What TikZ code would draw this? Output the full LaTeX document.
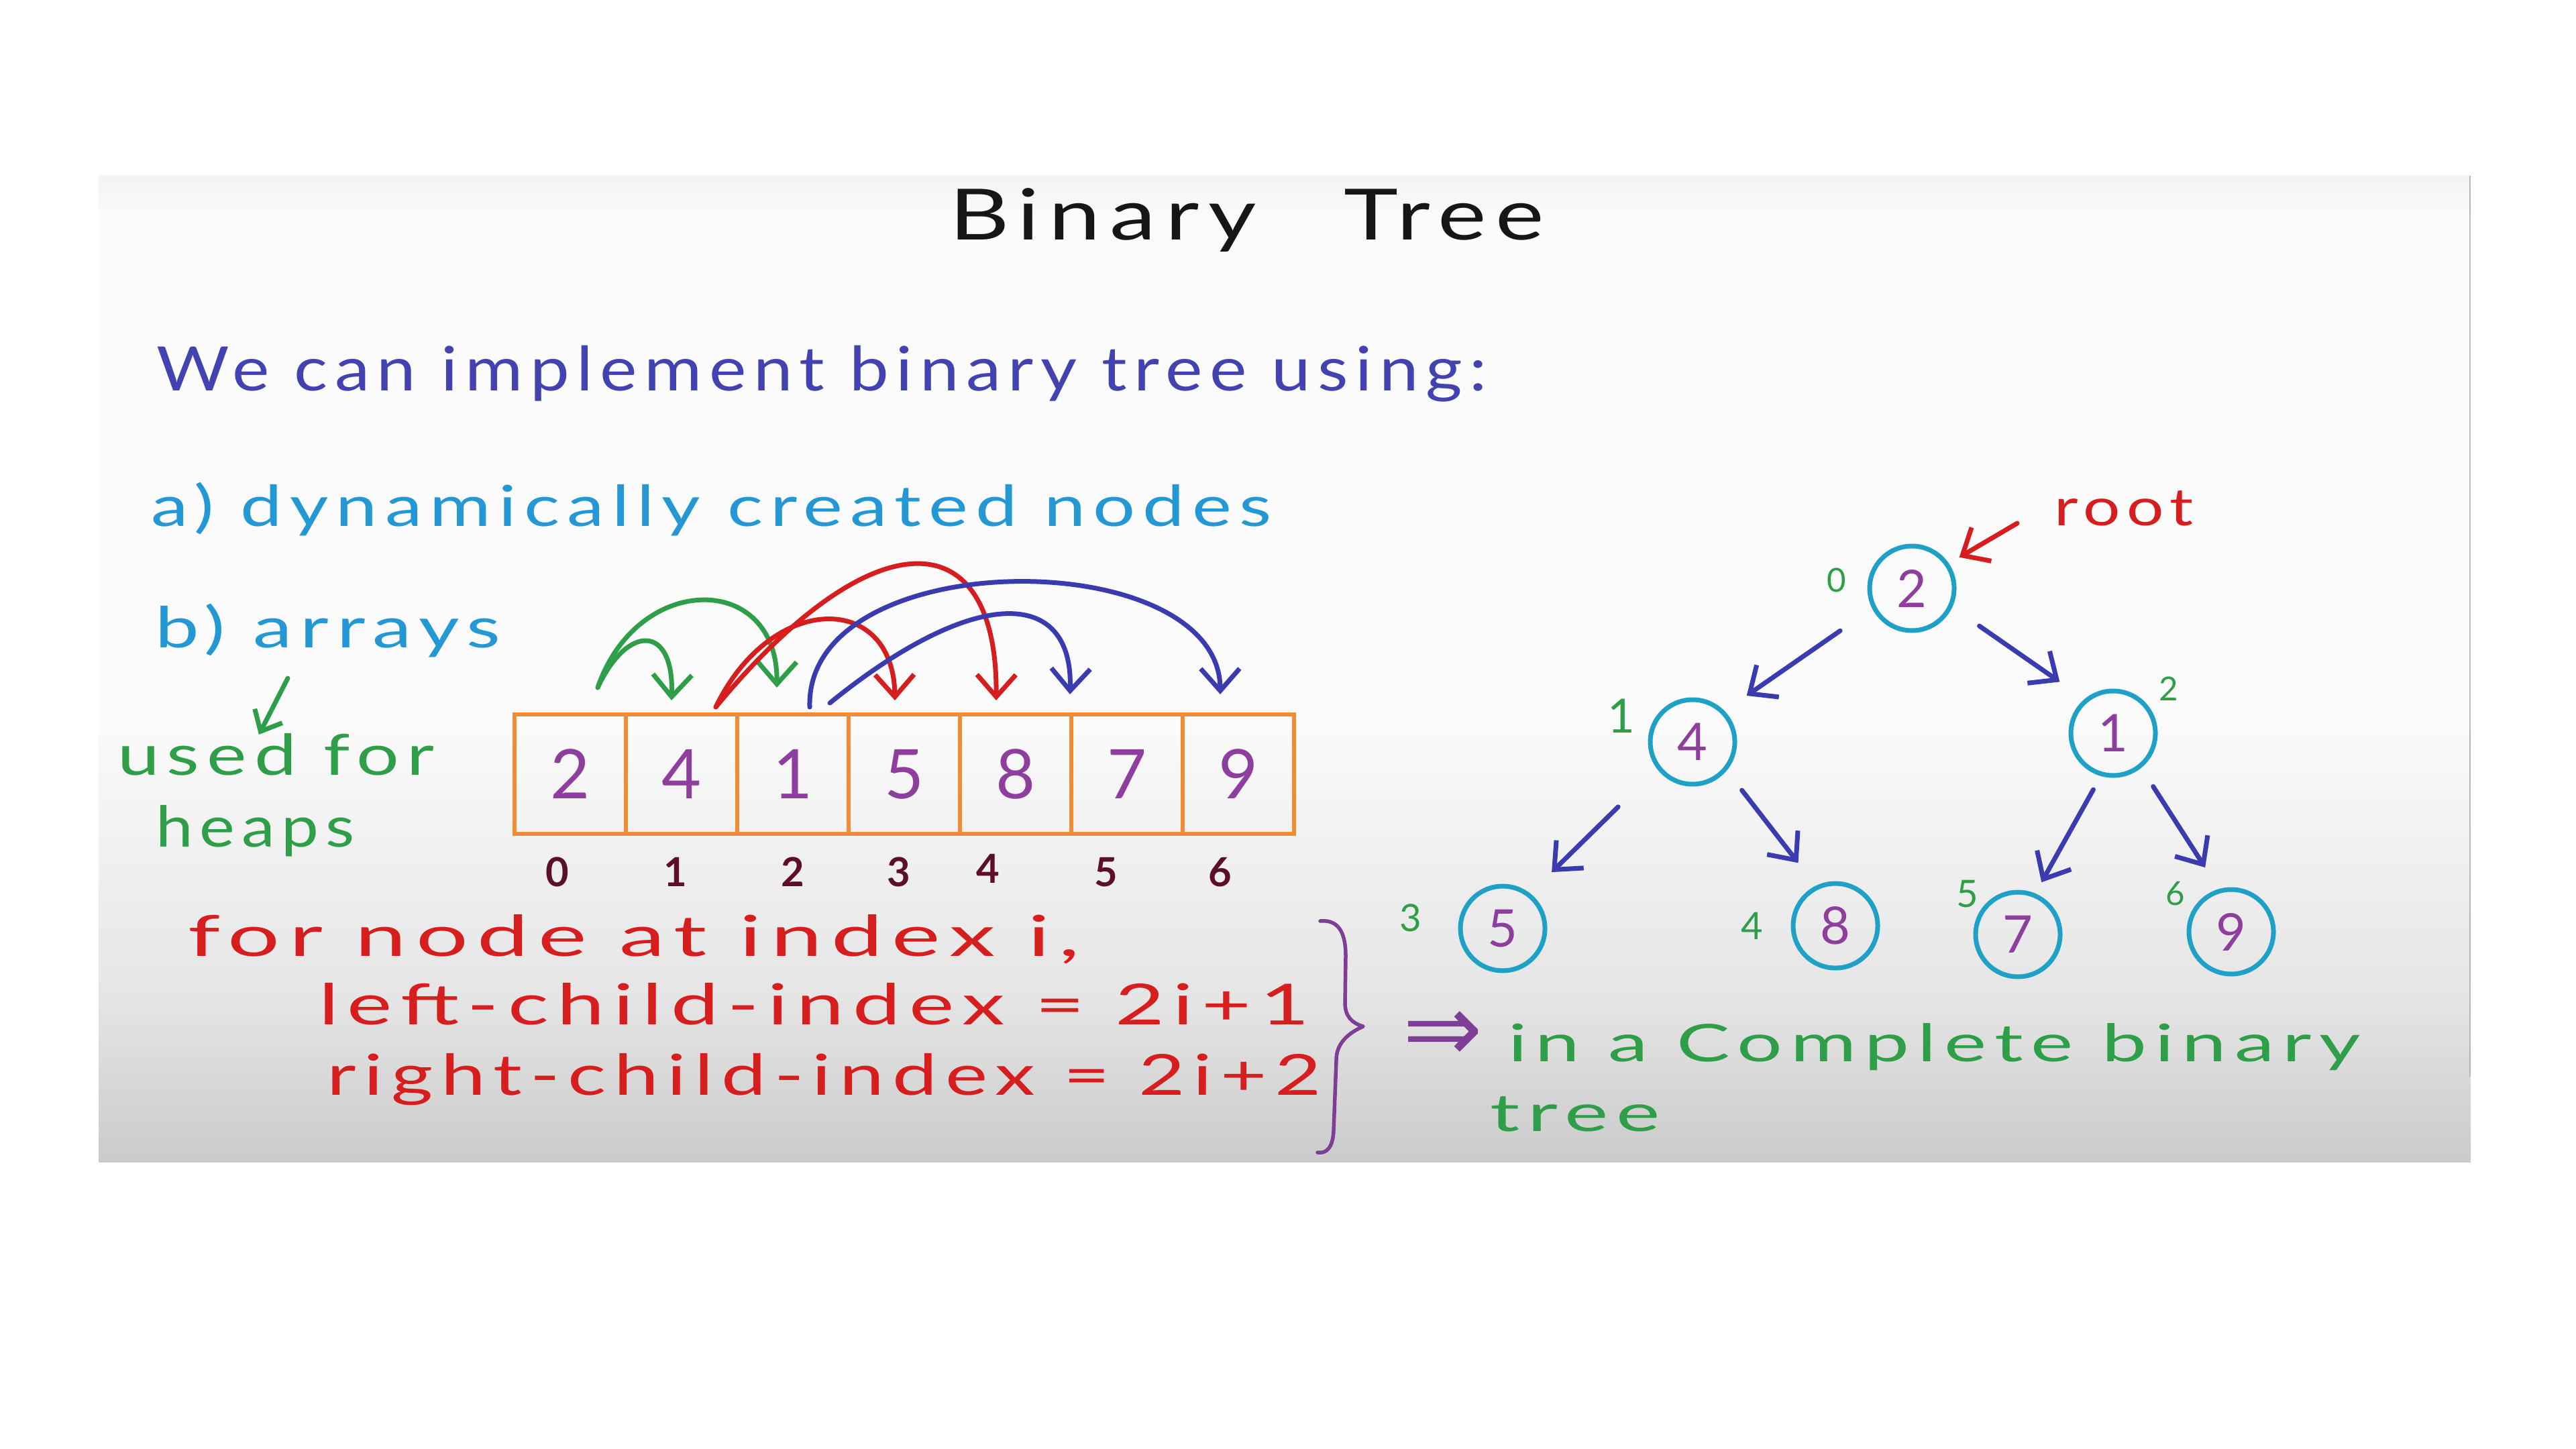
\documentclass[tikz,border=0pt]{standalone}
\usepackage{fontspec}
\setmainfont{Lato}
\newfontfamily\hand[LetterSpace=10]{Lato}
\newfontfamily\symfont{DejaVu Sans}
\usetikzlibrary{arrows.meta}
\definecolor{ink}{HTML}{161616}
\definecolor{navy}{HTML}{4242B0}
\definecolor{sky}{HTML}{2398D4}
\definecolor{grn}{HTML}{2E9E48}
\definecolor{redink}{HTML}{D61E1E}
\definecolor{purp}{HTML}{8E3F9E}
\definecolor{maroon}{HTML}{5C0F28}
\definecolor{orng}{HTML}{EF8C35}
\definecolor{cyanc}{HTML}{1FA0C6}
\definecolor{tblue}{HTML}{3B3BB0}
\definecolor{bracec}{HTML}{7E3E96}
\newcommand\fsz[1]{\fontsize{#1}{#1}\selectfont}
\newcommand\hw[2]{\resizebox{#1}{\height}{#2}}
\tikzset{
  txt/.style={anchor=base west, inner sep=0pt, outer sep=0pt},
  pen/.style={line width=0.07cm, line cap=round, line join=round},
  barb/.style={-{Straight Barb[length=0.33cm,width=0.58cm]}},
  cellbox/.style={draw=orng, line width=0.055cm, minimum width=1.66cm, minimum height=1.78cm,
    inner sep=0pt, text=purp, font=\fsz{29pt}},
  tnode/.style={circle, draw=cyanc, line width=0.07cm, minimum size=1.26cm, inner sep=0pt,
    text=purp, font=\fsz{22pt}},
  idx/.style={inner sep=0pt, text=maroon, font=\bfseries\fsz{17pt}},
  glbl/.style={inner sep=0pt, text=grn},
  tarrow/.style={pen, barb, draw=tblue},
}
\begin{document}
\begin{tikzpicture}[x=1cm,y=-1cm]
\useasboundingbox (0,0) rectangle (38.4,21.6);
\fill[white] (0,0) rectangle (38.4,21.6);
% board
\fill[black!1.5] (1.47,2.62) rectangle (36.83,17.32);
\shade[top color=black!4.5, bottom color=black!1.5] (1.47,2.62) rectangle (36.83,3.3);
\shade[top color=black!1.5, bottom color=black!10] (1.47,10.6) rectangle (36.83,14.8);
\shade[top color=black!10, bottom color=black!20.5] (1.47,14.8) rectangle (36.83,17.32);
\draw[black!28, line width=0.02cm] (36.82,2.62) -- (36.82,16.05);

% title and text
\node[txt, text=ink] (title) at (14.15,3.58) {\hand\fsz{30pt}\hw{4.58cm}{Binary}\hspace{1.30cm}\hw{2.99cm}{Tree}};
\node[txt, text=navy] (intro) at (2.33,5.83) {\hand\fsz{26pt}\hw{19.83cm}{We can implement binary tree using:}};
\node[txt, text=sky] (opta) at (2.25,7.84) {\hand\fsz{24pt}\hw{16.70cm}{a) dynamically created nodes}};
\node[txt, text=sky] (optb) at (2.31,9.65) {\hand\fsz{24pt}\hw{5.15cm}{b) arrays}};
\node[txt, text=grn] (used) at (1.75,11.55) {\hand\fsz{24pt}\hw{4.72cm}{used for}};
\node[txt, text=grn] (heaps) at (2.32,12.62) {\hand\fsz{24pt}\hw{2.97cm}{heaps}};
\node[txt, text=redink] (f1) at (2.80,14.25) {\hand\fsz{24pt}\hw{13.30cm}{for node at index i,}};
\node[txt, text=redink] (f2) at (4.75,15.27) {\hand\fsz{24pt}\hw{14.77cm}{left-child-index = 2i+1}};
\node[txt, text=redink] (f3) at (4.87,16.32) {\hand\fsz{24pt}\hw{14.83cm}{right-child-index = 2i+2}};
\node[txt, text=grn] (comp1) at (22.48,15.82) {\hand\fsz{22pt}\hw{12.71cm}{in a Complete binary}};
\node[txt, text=grn] (comp2) at (22.21,16.86) {\hand\fsz{22pt}\hw{2.54cm}{tree}};
\node[txt, text=redink] (rootlbl) at (30.62,7.83) {\hand\fsz{22pt}\hw{2.08cm}{root}};
\node[inner sep=0pt, text=bracec] (impl) at (21.51,15.45) {\resizebox{1.19cm}{!}{\symfont\fsz{34pt}⇒}};

% small green arrow
\coordinate (ga) at (4.29,10.11);
\coordinate (gb) at (3.86,10.95);
\draw[pen, draw=grn, -{Straight Barb[length=0.26cm,width=0.46cm]}] (ga) -- (gb);

% array
\foreach \v [count=\k from 0] in {2,4,1,5,8,7,9} {
  \node[cellbox] (c\k) at ({8.50+1.66*\k},11.54) {\v};
}
\node[idx] (i0) at (8.31,13.00) {0};
\node[idx] (i1) at (10.07,13.00) {1};
\node[idx] (i2) at (11.82,13.00) {2};
\node[idx] (i3) at (13.40,13.00) {3};
\node[idx] (i4) at (14.73,12.95) {4};
\node[idx] (i5) at (16.49,13.00) {5};
\node[idx] (i6) at (18.19,13.00) {6};

% arcs above array
\coordinate (gs) at (8.91,10.25);
\coordinate (gt1) at (10.01,10.44);
\coordinate (gt2) at (11.58,10.25);
\coordinate (rs) at (10.67,10.54);
\coordinate (rt3) at (13.34,10.44);
\coordinate (rt4) at (14.85,10.44);
\coordinate (bs1) at (12.07,10.54);
\coordinate (bs2) at (12.37,10.48);
\coordinate (bt5) at (15.95,10.35);
\coordinate (bt6) at (18.19,10.35);
\draw[pen, barb, draw=grn] (gs) .. controls (9.35,9.30) and (10.05,9.30) .. (gt1);
\draw[pen, barb, draw=grn] (gs) .. controls (9.50,8.52) and (11.60,8.52) .. (gt2);
\draw[pen, barb, draw=redink] (rs) .. controls (11.50,8.82) and (13.32,8.82) .. (rt3);
\draw[pen, barb, draw=redink] (rs) .. controls (13.00,7.72) and (14.87,7.72) .. (rt4);
\draw[pen, barb, draw=tblue] (bs2) .. controls (14.51,8.74) and (16.00,8.74) .. (bt5);
\draw[pen, barb, draw=tblue] (bs1) .. controls (12.00,8.09) and (18.18,8.09) .. (bt6);

% brace
\draw[pen, draw=bracec, line width=0.055cm] (19.68,13.73) .. controls (19.98,13.70) and (20.06,13.95) .. (20.06,14.25)
  -- (20.05,14.95) .. controls (20.05,15.15) and (20.15,15.25) .. (20.32,15.30)
  .. controls (20.10,15.40) and (19.92,15.55) .. (19.92,15.80)
  -- (19.88,16.85) .. controls (19.87,17.10) and (19.78,17.20) .. (19.64,17.18);

% tree
\node[tnode] (n0) at (28.50,8.77) {2};
\node[tnode] (n1) at (25.23,11.06) {4};
\node[tnode] (n2) at (31.50,10.93) {1};
\node[tnode] (n3) at (22.40,13.84) {5};
\node[tnode] (n4) at (27.36,13.80) {8};
\node[tnode] (n5) at (30.08,13.93) {7};
\node[tnode] (n6) at (33.26,13.89) {9};

\node[glbl, font=\fsz{14pt}] (l0) at (27.38,8.65) {0};
\node[glbl, font=\fsz{20pt}] (l1) at (24.17,10.67) {1};
\node[glbl, font=\fsz{14pt}] (l2) at (32.33,10.27) {2};
\node[glbl, font=\fsz{16pt}] (l3) at (21.03,13.68) {3};
\node[glbl, font=\fsz{16pt}] (l4) at (26.12,13.80) {4};
\node[glbl, font=\fsz{16pt}] (l5) at (29.33,13.33) {5};
\node[glbl, font=\fsz{14pt}] (l6) at (32.43,13.32) {6};

\draw[tarrow, shorten <=0.58cm, shorten >=0.40cm] (n0.207) -- (n1.44);
\draw[tarrow, shorten <=0.49cm, shorten >=0.45cm] (n0.335) -- (n2.130);
\draw[tarrow, shorten <=0.81cm, shorten >=0.45cm] (n1.217) -- (n3.52);
\draw[tarrow, shorten <=0.37cm, shorten >=0.43cm] (n1.320) -- (n4.116);
\draw[tarrow, shorten <=0.23cm, shorten >=0.19cm] (n2.254) -- (n5.67);
\draw[tarrow, shorten <=0.33cm, shorten >=0.38cm] (n2.309) -- (n6.106);

\coordinate (ra) at (30.07,7.80);
\draw[pen, barb, draw=redink, shorten >=0.18cm] (ra) -- (n0.34);
\end{tikzpicture}
\end{document}
